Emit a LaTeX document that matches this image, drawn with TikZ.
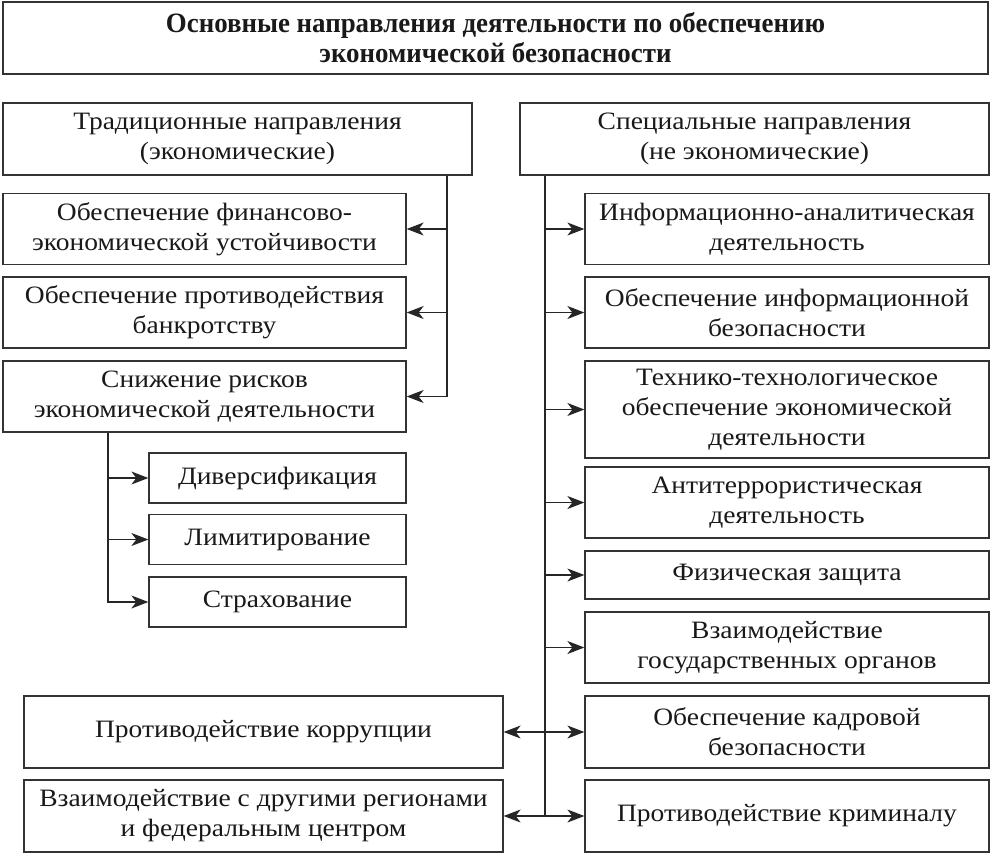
\documentclass[tikz,border=0pt]{standalone}
\usepackage{fontspec}
\setmainfont{Liberation Serif}[FakeStretch=1.1]
\newfontfamily\titlefont{Liberation Serif}[FakeStretch=0.96]
\usetikzlibrary{arrows.meta,positioning,calc}

\begin{document}
\begin{tikzpicture}[x=1pt,y=-1pt,
    box/.style={draw=black!80,line width=1.3pt,fill=white,align=center,inner sep=0pt,
      text=black!90,font=\fontsize{25}{30}\selectfont},
    lbox/.style={box,minimum width=403pt,minimum height=71pt},
    sbox/.style={box,minimum width=257pt,minimum height=50pt},
    rbox/.style={box,minimum width=404pt,minimum height=71pt},
    bbox/.style={box,minimum width=479pt,minimum height=72pt},
    link/.style={line width=1.2pt,draw=black!85},
    arr/.style={link,-{Stealth[length=17pt,width=13pt,inset=5pt]}},
    darr/.style={link,{Stealth[length=17pt,width=13pt,inset=5pt]}-{Stealth[length=17pt,width=13pt,inset=5pt]}},
  ]
  \fill[white] (0,0) rectangle (990,854);
  \useasboundingbox (0,0) rectangle (990,854);

  % Title
  \node[box,minimum width=985pt,minimum height=72pt,
    font=\titlefont\bfseries\fontsize{28}{30}\selectfont] (title) at (495.5,38)
    {Основные направления деятельности по обеспечению\\экономической безопасности};

  % Two headers
  \node[box,minimum width=469pt,minimum height=72pt] (trad) at (237.5,139) {Традиционные направления\\(экономические)};
  \node[box,minimum width=469pt,minimum height=72pt] (spec) at (754.5,139) {Специальные направления\\(не экономические)};

  % Left column
  \node[lbox] (fin)  at (204.5,229)   {Обеспечение финансово-\\экономической устойчивости};
  \node[lbox] (bank) at (204.5,312.5) {Обеспечение противодействия\\банкротству};
  \node[lbox] (risk) at (204.5,396.5) {Снижение рисков\\экономической деятельности};
  \node[sbox] (div)  at (277.5,478)   {Диверсификация};
  \node[sbox] (lim)  at (277.5,539.5) {Лимитирование};
  \node[sbox] (ins)  at (277.5,602)   {Страхование};
  \node[bbox] (corr) at (263.5,732)   {Противодействие коррупции};
  \node[bbox] (reg)  at (263.5,816)   {Взаимодействие с другими регионами\\и федеральным центром};

  % Right column
  \node[rbox] (r1) at (787,229)   {Информационно-аналитическая\\деятельность};
  \node[rbox] (r2) at (787,312.5) {Обеспечение информационной\\безопасности};
  \node[rbox,minimum height=97pt] (r3) at (787,409.5) {Технико-технологическое\\обеспечение экономической\\деятельности};
  \node[rbox] (r4) at (787,502.5) {Антитеррористическая\\деятельность};
  \node[rbox,minimum height=48pt] (r5) at (787,575) {Физическая защита};
  \node[rbox] (r6) at (787,647.5) {Взаимодействие\\государственных органов};
  \node[rbox,minimum height=72pt] (r7) at (787,732) {Обеспечение кадровой\\безопасности};
  \node[rbox,minimum height=72pt] (r8) at (787,816) {Противодействие криминалу};

  % Trunks
  \coordinate (ltr) at (447,0);
  \coordinate (str) at (108,0);
  \coordinate (rtr) at (545,0);

  % Left branch
  \draw[arr] (trad.south -| ltr) |- (risk.east);
  \foreach \n in {fin,bank}
    \draw[arr] (ltr |- \n.east) -- (\n.east);

  % Risk branch
  \draw[arr] (risk.south -| str) |- (ins.west);
  \foreach \n in {div,lim}
    \draw[arr] (str |- \n.west) -- (\n.west);

  % Right branch
  \draw[link] (spec.south -| rtr) -- (rtr |- r8.west);
  \foreach \n in {r1,r2,r3,r4,r5,r6}
    \draw[arr] (rtr |- \n.west) -- (\n.west);
  \draw[darr] (corr.east) -- (r7.west);
  \draw[darr] (reg.east) -- (r8.west);
\end{tikzpicture}
\end{document}
